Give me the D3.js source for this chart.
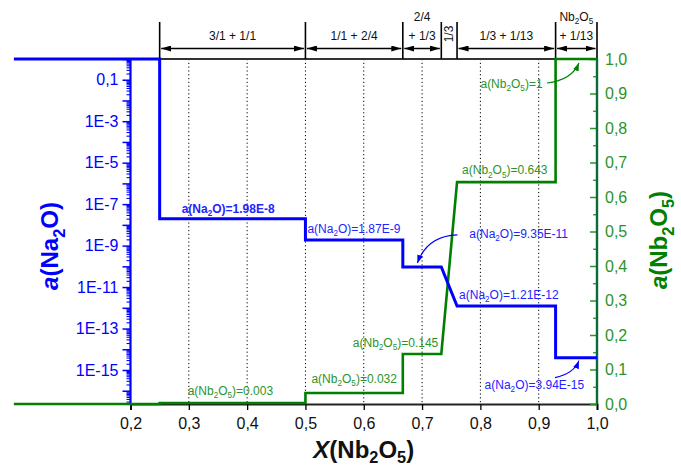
<!DOCTYPE html>
<html><head><meta charset="utf-8">
<script src="https://cdn.jsdelivr.net/npm/d3@7"></script>
<style>
body{margin:0;background:#fff}
text{font-family:Arial,"Liberation Sans",sans-serif}
</style>
</head><body>
<svg id="c" width="681" height="470"></svg>
<script>
// Step curves of component activities along the Na2O–Nb2O5 join
const naX = [0, 0.25, 0.25, 0.5, 0.5, 0.667, 0.667, 0.733, 0.76, 0.929, 0.929, 1.0];
const naA = [1, 1, 1.98e-8, 1.98e-8, 1.87e-9, 1.87e-9, 9.35e-11, 9.35e-11, 1.21e-12, 1.21e-12, 3.94e-15, 3.94e-15];
const nbX = [0, 0.25, 0.25, 0.5, 0.5, 0.667, 0.667, 0.733, 0.76, 0.929, 0.929, 1.0];
const nbA = [0, 0, 0.003, 0.003, 0.032, 0.032, 0.145, 0.145, 0.643, 0.643, 1, 1];

const xTicks = [0.2, 0.3, 0.4, 0.5, 0.6, 0.7, 0.8, 0.9, 1.0];
const gridX = [0.3, 0.4, 0.5, 0.6, 0.7, 0.8, 0.9];
const leftLabelExps = [-1, -3, -5, -7, -9, -11, -13, -15];
const rightTicks = [0, 0.1, 0.2, 0.3, 0.4, 0.5, 0.6, 0.7, 0.8, 0.9, 1.0];
const rightMinor = [0.05, 0.15, 0.25, 0.35, 0.45, 0.55, 0.65, 0.75, 0.85, 0.95];

// Phase fields above the plot
const phaseBounds = [0.25, 0.5, 0.667, 0.733, 0.76, 0.929, 1.0];
const phaseLabels = [["3/1 + 1/1"], ["1/1 + 2/4"], ["2/4", "+ 1/3"], ["1/3"], ["1/3 + 1/13"], ["Nb_2O_5", "+ 1/13"]];

// Value labels: [text, x, value, dx, dy, anchor, bold]
const naNotes = [
  ["a(Na_2O)=1.98E-8", 0.25, 1.98e-8, 22, -6, "start", true],
  ["a(Na_2O)=1.87E-9", 0.5, 1.87e-9, 2, -7, "start", false],
  ["a(Na_2O)=9.35E-11", 0.733, 9.35e-11, 28, -29, "start", false],
  ["a(Na_2O)=1.21E-12", 0.76, 1.21e-12, 2, -7, "start", false],
  ["a(Na_2O)=3.94E-15", 0.929, 3.94e-15, -71, 31, "start", false]
];
const nbNotes = [
  ["a(Nb_2O_5)=0.003", 0.25, 0.003, 28, -8, "start"],
  ["a(Nb_2O_5)=0.032", 0.5, 0.032, 6, -10, "start"],
  ["a(Nb_2O_5)=0.145", 0.733, 0.145, -3, -7, "end"],
  ["a(Nb_2O_5)=0.643", 0.76, 0.643, 5, -8, "start"],
  ["a(Nb_2O_5)=1", 0.929, 1, -13, 29, "end"]
];

const BLUE = "#0000ff", BLUE_T = "#2323ff";
const GREEN = "#008000", GREEN_T = "#2b942b", GREEN_AX = "#0a6a3a";

const svg = d3.select("#c");
const x = d3.scaleLinear().domain([0.2, 1.0]).range([130.5, 597]);
const yL = d3.scaleLog().domain([Math.pow(10, -16.64), 1]).range([404, 59]);
const yR = d3.scaleLinear().domain([0, 1]).range([404, 59]);
const comma = d => d3.format(".1f")(d).replace(".", ",");

// Text with single-digit subscripts written as _d
function richText(sel, str, fs, italicFirst, subShift) {
  const sh = subShift == null ? 0.28 : subShift;
  const re = /_(\d)|([^_]+)/g;
  let m, shifted = false, first = true;
  while ((m = re.exec(str))) {
    if (m[1]) {
      sel.append("tspan").attr("font-size", fs * 0.68).attr("dy", fs * sh).text(m[1]);
      shifted = true;
    } else {
      let s = m[2];
      if (first && italicFirst) {
        sel.append("tspan").attr("font-style", "italic").text(s[0]);
        s = s.slice(1);
      }
      sel.append("tspan").attr("dy", shifted ? -fs * sh : null).text(s);
      shifted = false;
    }
    first = false;
  }
  return sel;
}

const defs = svg.append("defs");
function marker(id, color, w, h) {
  defs.append("marker").attr("id", id).attr("viewBox", `0 0 ${w} ${h}`)
    .attr("refX", w).attr("refY", h / 2).attr("markerWidth", w).attr("markerHeight", h)
    .attr("markerUnits", "userSpaceOnUse").attr("orient", "auto-start-reverse")
    .append("path").attr("d", `M0,0L${w},${h / 2}L0,${h}Z`).attr("fill", color);
}
marker("hk", "#000", 10, 6);
marker("hb", BLUE, 8, 6);
marker("hg", GREEN, 8, 6);

// dotted verticals
svg.append("g").selectAll("line").data(gridX).join("line")
  .attr("x1", d => x(d)).attr("x2", d => x(d)).attr("y1", 59).attr("y2", 404)
  .attr("stroke", "#000").attr("stroke-width", 1).attr("stroke-dasharray", "1.2,2.6");

// top frame line
svg.append("line").attr("x1", x(0.2)).attr("x2", x(1.0)).attr("y1", 59).attr("y2", 59)
  .attr("stroke", "#333").attr("stroke-width", 2.2);

// bottom axis
const gx = svg.append("g").attr("transform", "translate(0,404)")
  .call(d3.axisBottom(x).tickValues(xTicks).tickSize(6).tickPadding(8).tickFormat(comma));
gx.select(".domain").attr("stroke", "#222").attr("stroke-width", 2);
gx.selectAll(".tick line").attr("stroke", "#000").attr("stroke-width", 1.3);
gx.selectAll("text").attr("font-size", 16).attr("fill", "#111").style("font-family", "Arial, 'Liberation Sans', sans-serif");

// left log axis
const minorVals = [], decadeVals = [];
for (let e = -17; e <= 0; e++) {
  decadeVals.push(Math.pow(10, e));
  for (let k = 2; k <= 9; k++) minorVals.push(k * Math.pow(10, e));
}
const [lo, hi] = yL.domain();
const inD = v => v >= lo * 0.999 && v <= hi * 1.0001;
const gyMinor = svg.append("g").attr("transform", `translate(${x(0.2)},0)`)
  .call(d3.axisLeft(yL).tickValues(minorVals.filter(inD)).tickSize(4).tickFormat(""));
gyMinor.select(".domain").remove();
gyMinor.selectAll(".tick line").attr("stroke", BLUE).attr("stroke-width", 1.1);
const gy = svg.append("g").attr("transform", `translate(${x(0.2)},0)`)
  .call(d3.axisLeft(yL).tickValues(decadeVals.filter(inD)).tickSize(8).tickPadding(4)
    .tickFormat(v => {
      const e = Math.round(Math.log10(v));
      if (!leftLabelExps.includes(e)) return "";
      return e === -1 ? "0,1" : "1E" + e;
    }));
gy.select(".domain").remove();
gy.selectAll(".tick line").attr("stroke", BLUE).attr("stroke-width", 1.5);
gy.selectAll("text").attr("font-size", 16).attr("fill", BLUE).style("font-family", "Arial, 'Liberation Sans', sans-serif");
svg.append("line").attr("x1", x(0.2)).attr("x2", x(0.2)).attr("y1", 59).attr("y2", 404)
  .attr("stroke", BLUE).attr("stroke-width", 2.2);

// right linear axis (ticks inward)
const gr2 = svg.append("g").attr("transform", `translate(${x(1.0)},0)`)
  .call(d3.axisRight(yR).tickValues(rightMinor).tickSize(-4).tickFormat(""));
gr2.select(".domain").remove();
gr2.selectAll(".tick line").attr("stroke", GREEN_T).attr("stroke-width", 1.3);
const gr = svg.append("g").attr("transform", `translate(${x(1.0)},0)`)
  .call(d3.axisRight(yR).tickValues(rightTicks).tickSizeInner(-7).tickSizeOuter(0).tickPadding(8).tickFormat(comma));
gr.select(".domain").remove();
gr.selectAll(".tick line").attr("stroke", GREEN_T).attr("stroke-width", 1.5);
gr.selectAll("text").attr("font-size", 16).attr("fill", GREEN_T).style("font-family", "Arial, 'Liberation Sans', sans-serif");
svg.append("line").attr("x1", x(1.0)).attr("x2", x(1.0)).attr("y1", 59).attr("y2", 404)
  .attr("stroke", GREEN_AX).attr("stroke-width", 2.4);

// phase boundaries and field labels
const topG = svg.append("g");
topG.selectAll("line.b").data(phaseBounds).join("line").attr("class", "b")
  .attr("x1", d => x(d)).attr("x2", d => x(d)).attr("y1", 22).attr("y2", 59)
  .attr("stroke", "#000").attr("stroke-width", 1.6);
phaseLabels.forEach((lab, i) => {
  const a = phaseBounds[i], b = phaseBounds[i + 1];
  const cx = (x(a) + x(b)) / 2;
  if (lab[0] === "1/3") {
    topG.append("text").attr("transform", `translate(${cx + 4},34) rotate(-90)`)
      .attr("text-anchor", "middle").attr("font-size", 12).attr("fill", "#111").text(lab[0]);
    return;
  }
  topG.append("line").attr("x1", x(a) + 1.5).attr("x2", x(b) - 1.5).attr("y1", 48.5).attr("y2", 48.5)
    .attr("stroke", "#000").attr("stroke-width", 1.3)
    .attr("marker-start", "url(#hk)").attr("marker-end", "url(#hk)");
  if (lab.length === 1) {
    richText(topG.append("text").attr("x", cx).attr("y", 40).attr("text-anchor", "middle")
      .attr("font-size", 12).attr("fill", "#111"), lab[0], 12, false);
  } else {
    richText(topG.append("text").attr("x", cx).attr("y", 21).attr("text-anchor", "middle")
      .attr("font-size", 12).attr("fill", "#111"), lab[0], 12, false);
    topG.append("text").attr("x", cx).attr("y", 40).attr("text-anchor", "middle")
      .attr("font-size", 12).attr("fill", "#111").text(lab[1]);
  }
});

// data steps
const naPts = naX.map((v, i) => [v, naA[i]]);
const nbPts = nbX.map((v, i) => [v, nbA[i]]);
svg.append("path").datum(nbPts)
  .attr("d", d3.line().x(d => x(d[0])).y(d => yR(d[1])))
  .attr("fill", "none").attr("stroke", GREEN).attr("stroke-width", 2.6);
svg.append("path").datum(naPts)
  .attr("d", d3.line().x(d => x(d[0])).y(d => yL(d[1])))
  .attr("fill", "none").attr("stroke", BLUE).attr("stroke-width", 3);

// value labels
naNotes.forEach(n => {
  const t = svg.append("text").attr("x", x(n[1]) + n[3]).attr("y", yL(n[2]) + n[4])
    .attr("text-anchor", n[5]).attr("font-size", 12).attr("fill", BLUE_T)
    .attr("font-weight", n[6] ? "bold" : null);
  richText(t, n[0], 12, false);
});
nbNotes.forEach(n => {
  const t = svg.append("text").attr("x", x(n[1]) + n[3]).attr("y", yR(n[2]) + n[4])
    .attr("text-anchor", n[5]).attr("font-size", 12).attr("fill", GREEN_T);
  richText(t, n[0], 12, false);
});

// pointer arrows: tip at a data point, tail and control relative to tip
const pointers = [
  { sc: yL, px: 0.692, v: 9.35e-11, tipDy: -4, tail: [40, -28], ctrl: [10, -27], m: "hb", c: BLUE },
  { sc: yL, px: 0.969, v: 3.94e-15, tipDy: 3, tail: [-24, 17], ctrl: [-5, 13], m: "hb", c: BLUE },
  { sc: yR, px: 0.969, v: 1, tipDy: 4, tail: [-32, 20], ctrl: [-7, 17], m: "hg", c: GREEN }
];
pointers.forEach(p => {
  const tx = x(p.px), ty = p.sc(p.v) + p.tipDy;
  svg.append("path")
    .attr("d", `M${tx + p.tail[0]},${ty + p.tail[1]}Q${tx + p.ctrl[0]},${ty + p.ctrl[1]} ${tx},${ty}`)
    .attr("fill", "none").attr("stroke", p.c).attr("stroke-width", 1.2)
    .attr("marker-end", `url(#${p.m})`);
});

// axis titles
richText(svg.append("text").attr("x", (x(0.2) + x(1.0)) / 2).attr("y", 458)
  .attr("text-anchor", "middle").attr("font-size", 24).attr("font-weight", "bold").attr("fill", "#111"),
  "X(Nb_2O_5)", 24, true, 0.2);
richText(svg.append("text").attr("transform", "translate(58,246) rotate(-90)")
  .attr("text-anchor", "middle").attr("font-size", 24).attr("font-weight", "bold").attr("fill", BLUE),
  "a(Na_2O)", 24, true);
richText(svg.append("text").attr("transform", "translate(667,240) rotate(-90)")
  .attr("text-anchor", "middle").attr("font-size", 24).attr("font-weight", "bold").attr("fill", GREEN),
  "a(Nb_2O_5)", 24, true);
</script>
</body></html>
